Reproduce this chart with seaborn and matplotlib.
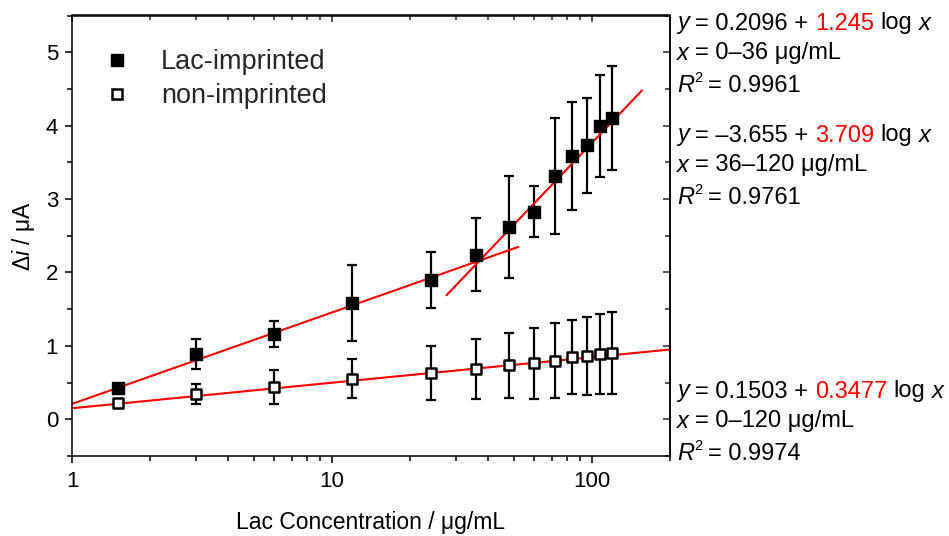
import matplotlib
matplotlib.use("Agg")
import numpy as np
import pandas as pd
import seaborn as sns
import matplotlib.pyplot as plt
from matplotlib.lines import Line2D
from matplotlib.ticker import FixedLocator, MultipleLocator, LogLocator, NullFormatter, FuncFormatter

# ---------------- data ----------------
conc = [1.5, 3, 6, 12, 24, 36, 48, 60, 72, 84, 96, 108, 120]
lac_mean = [0.43, 0.89, 1.165, 1.58, 1.90, 2.24, 2.62, 2.83, 3.31, 3.58, 3.73, 4.00, 4.10]
lac_err = [0.04, 0.21, 0.18, 0.52, 0.38, 0.495, 0.70, 0.345, 0.79, 0.735, 0.645, 0.695, 0.71]
non_mean = [0.22, 0.345, 0.435, 0.55, 0.63, 0.686, 0.735, 0.76, 0.80, 0.845, 0.867, 0.89, 0.90]
non_err = [0.05, 0.13, 0.23, 0.265, 0.37, 0.405, 0.44, 0.48, 0.51, 0.505, 0.53, 0.545, 0.555]

legend_labels = ["Lac-imprinted", "non-imprinted"]

# linear fits  y = a + b log x
fit_intercept = [0.2096, -3.655, 0.1503]
fit_slope = [1.245, 3.709, 0.3477]
fit_xmin = [1.0, 27.6, 1.0]
fit_xmax = [52.2, 156.0, 200.0]

eq_intercept_txt = ["0.2096", "\u20133.655", "0.1503"]
eq_slope_txt = ["1.245", "3.709", "0.3477"]
eq_range_txt = ["0\u201336", "36\u2013120", "0\u2013120"]
eq_r2_txt = ["0.9961", "0.9761", "0.9974"]

x_ticks = [1, 10, 100]
y_ticks = [0, 1, 2, 3, 4, 5]

# ---------------- style ----------------
sns.set_theme(style="ticks")
plt.rcParams["font.family"] = ["Liberation Sans", "DejaVu Sans"]
plt.rcParams["mathtext.fontset"] = "custom"
plt.rcParams["mathtext.rm"] = "Liberation Sans"
plt.rcParams["mathtext.it"] = "Liberation Sans:italic"
plt.rcParams["axes.linewidth"] = 1.1
plt.rcParams["axes.edgecolor"] = "black"

W, H = 949, 536
fig = plt.figure(figsize=(W / 100, H / 100), dpi=100)
ax_l, ax_r, ax_b, ax_t = 72 / W, 670 / W, 1 - 456 / H, 1 - 15.5 / H
ax = fig.add_axes([ax_l, ax_b, ax_r - ax_l, ax_t - ax_b])

# error bars
ax.errorbar(conc, lac_mean, yerr=lac_err, fmt="none", ecolor="black",
            elinewidth=1.6, capsize=3.6, capthick=1.6, zorder=2)
ax.errorbar(conc, non_mean, yerr=non_err, fmt="none", ecolor="black",
            elinewidth=1.6, capsize=3.6, capthick=1.6, zorder=2)

# fit lines
for a, b, x0, x1 in zip(fit_intercept, fit_slope, fit_xmin, fit_xmax):
    xs = np.geomspace(x0, x1, 60)
    ys = a + b * np.log10(xs)
    sns.lineplot(x=xs, y=ys, color="red", linewidth=1.5, ax=ax, zorder=2.5,
                 legend=False)

# points
df = pd.DataFrame({"conc": conc, "lac": lac_mean, "non": non_mean})
sns.scatterplot(data=df, x="conc", y="lac", marker="s", s=68, color="black",
                edgecolor="black", linewidth=1.0, ax=ax, zorder=3, legend=False)
sns.scatterplot(data=df, x="conc", y="non", marker="s", s=56, color="white",
                edgecolor="black", linewidth=1.8, ax=ax, zorder=3, legend=False)

# axes
ax.set_xscale("log")
ax.set_xlim(1, 200)
ax.set_ylim(-0.5, 5.5)
ax.xaxis.set_major_locator(FixedLocator(x_ticks))
ax.xaxis.set_major_formatter(FuncFormatter(lambda v, p: f"{v:g}"))
ax.xaxis.set_minor_locator(LogLocator(base=10, subs=np.arange(2, 10)))
ax.xaxis.set_minor_formatter(NullFormatter())
ax.yaxis.set_major_locator(FixedLocator(y_ticks))
ax.yaxis.set_minor_locator(MultipleLocator(0.5))
ax.tick_params(which="major", direction="out", length=5, width=1.1,
               labelsize=16, colors="black")
ax.tick_params(which="minor", direction="out", length=3.3, width=1.1, colors="black")
ax.tick_params(axis="x", which="major", pad=5.5)
ax.tick_params(axis="y", which="major", pad=5)

# top / right inward ticks
sx = ax.secondary_xaxis("top")
sx.xaxis.set_major_locator(FixedLocator(x_ticks))
sx.xaxis.set_minor_locator(LogLocator(base=10, subs=np.arange(2, 10)))
sx.xaxis.set_major_formatter(NullFormatter())
sx.xaxis.set_minor_formatter(NullFormatter())
sx.tick_params(which="major", direction="in", length=5, width=1.1)
sx.tick_params(which="minor", direction="in", length=3.3, width=1.1)
sy = ax.secondary_yaxis("right")
sy.yaxis.set_major_locator(FixedLocator(y_ticks))
sy.yaxis.set_minor_locator(MultipleLocator(0.5))
sy.yaxis.set_major_formatter(NullFormatter())
sy.tick_params(which="major", direction="in", length=5, width=1.1)
sy.tick_params(which="minor", direction="in", length=3.3, width=1.1)

# axis labels
ax_w_px = 670 - 72
ax_h_px = 456 - 15.5
ax.set_xlabel("Lac Concentration / \u03bcg/mL", fontsize=16.5, color="black")
ax.xaxis.set_label_coords(0.5, (456 - 511) / ax_h_px)
ax.set_ylabel("\u0394$\\mathit{i}$ / \u03bcA", fontsize=16.5, color="black")
ax.yaxis.set_label_coords((37 - 72) / ax_w_px, 0.5)

# legend
handles = [
    Line2D([], [], marker="s", ls="none", mfc="black", mec="black", ms=8.3, mew=1.0),
    Line2D([], [], marker="s", ls="none", mfc="white", mec="black", ms=7.5, mew=1.8),
]
ax.legend(handles, legend_labels, loc="upper left",
          bbox_to_anchor=((103 - 72) / ax_w_px, (456 - 49) / ax_h_px),
          frameon=False, fontsize=19.5, handlelength=1.0, handletextpad=1.15,
          labelspacing=0.3, borderpad=0, borderaxespad=0)

# rich text annotations on the right
fs = 17
space_px = 0.278 * fs * 100 / 72
fig.canvas.draw()
renderer = fig.canvas.get_renderer()


def put(x_px, base_px, text, color="black", italic=False, size=fs):
    t = fig.text(x_px / W, 1 - base_px / H, text, color=color, fontsize=size,
                 fontstyle="italic" if italic else "normal",
                 ha="left", va="baseline")
    bb = t.get_window_extent(renderer)
    return bb.x1


def eq_block(x_px, base_px, i):
    x = put(x_px, base_px, "y", italic=True) + space_px
    x = put(x, base_px, "= " + eq_intercept_txt[i] + " +") + space_px
    x = put(x, base_px, eq_slope_txt[i], color="red") + space_px
    x = put(x, base_px, "log") + space_px
    put(x, base_px, "x", italic=True)
    b2 = base_px + 30
    x = put(x_px, b2, "x", italic=True) + space_px
    put(x, b2, "= " + eq_range_txt[i] + " \u03bcg/mL")
    b3 = base_px + 62
    x = put(x_px, b3, "R", italic=True)
    x = put(x + 0.5, b3 - 9, "2", size=10.5)
    put(x + space_px - 1, b3, "= " + eq_r2_txt[i])


eq_block(677, 29.5, 0)
eq_block(677, 141.5, 1)
eq_block(677, 397.5, 2)

fig.savefig("out.png", dpi=100)
